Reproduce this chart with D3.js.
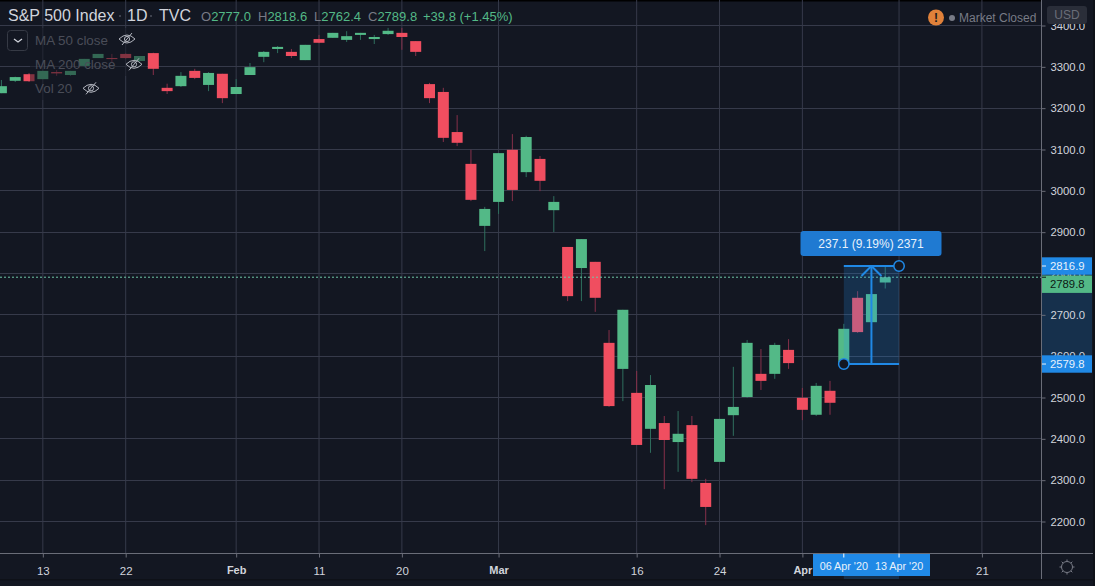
<!DOCTYPE html>
<html><head><meta charset="utf-8">
<script src="https://cdn.jsdelivr.net/npm/d3@7"></script>
<style>
html,body{margin:0;padding:0;background:#131722;overflow:hidden}
svg{display:block}
text{font-family:"Liberation Sans",Arial,sans-serif}
</style></head><body>
<svg id="c" width="1095" height="586"></svg>
<script>
const dates=["2020-01-08","2020-01-09","2020-01-10","2020-01-13","2020-01-14","2020-01-15","2020-01-16","2020-01-17","2020-01-21","2020-01-22","2020-01-23","2020-01-24","2020-01-27","2020-01-28","2020-01-29","2020-01-30","2020-01-31","2020-02-03","2020-02-04","2020-02-05","2020-02-06","2020-02-07","2020-02-10","2020-02-11","2020-02-12","2020-02-13","2020-02-14","2020-02-18","2020-02-19","2020-02-20","2020-02-21","2020-02-24","2020-02-25","2020-02-26","2020-02-27","2020-02-28","2020-03-02","2020-03-03","2020-03-04","2020-03-05","2020-03-06","2020-03-09","2020-03-10","2020-03-11","2020-03-12","2020-03-13","2020-03-16","2020-03-17","2020-03-18","2020-03-19","2020-03-20","2020-03-23","2020-03-24","2020-03-25","2020-03-26","2020-03-27","2020-03-30","2020-03-31","2020-04-01","2020-04-02","2020-04-03","2020-04-06","2020-04-07","2020-04-08","2020-04-09"];
const futureDates=["2020-04-13","2020-04-14","2020-04-15","2020-04-16","2020-04-17","2020-04-20","2020-04-21","2020-04-22","2020-04-23","2020-04-24","2020-04-27"];
const open=[3235,3265,3281,3269,3286,3279,3301,3320,3320,3330,3313,3332,3248,3252,3289,3255,3282,3233,3279,3323,3342,3335,3315,3366,3369,3364,3376,3366,3378,3381,3361,3257,3238,3141,3064,2914,2972,3098,3044,3076,2952,2863,2812,2827,2631,2568,2510,2423,2437,2391,2432,2292,2343,2456,2500,2556,2556,2614,2498,2457,2515,2582,2740,2681,2777.0];
const high=[3267,3275,3284,3289,3291,3289,3318,3330,3330,3332,3325,3333,3258,3286,3294,3286,3282,3269,3308,3337,3349,3342,3352,3376,3381,3385,3381,3376,3393,3393,3361,3260,3248,3182,3098,2960,3090,3136,3132,3083,2986,2863,2882,2827,2662,2711,2563,2553,2454,2466,2454,2302,2447,2573,2638,2616,2631,2640,2522,2534,2539,2677,2756,2749,2818.6];
const low=[3235,3262,3262,3269,3277,3277,3298,3320,3310,3318,3308,3279,3233,3250,3269,3240,3211,3233,3279,3310,3332,3320,3315,3356,3369,3359,3364,3354,3376,3340,3325,3211,3117,3107,2974,2853,2943,2974,3032,2998,2899,2732,2732,2706,2476,2490,2384,2365,2277,2319,2294,2190,2343,2406,2498,2517,2544,2568,2444,2454,2457,2580,2655,2681,2762.4];
const close=[3252,3274,3264,3289,3283,3289,3318,3330,3318,3320,3325,3294,3240,3277,3272,3284,3223,3250,3298,3335,3347,3325,3352,3357,3381,3373,3381,3371,3386,3371,3335,3223,3127,3115,2977,2955,3090,3001,3129,3023,2972,2744,2882,2740,2478,2711,2384,2529,2396,2411,2302,2234,2447,2476,2631,2539,2626,2582,2469,2527,2486,2665,2657,2749,2789.8];
const priceTicks=[2200,2300,2400,2500,2600,2700,2800,2900,3000,3100,3200,3300,3400];
const timeTicks=[["2020-01-13","13",false],["2020-01-22","22",false],["2020-02-03","Feb",true],["2020-02-11","11",false],["2020-02-20","20",false],["2020-03-02","Mar",true],["2020-03-16","16",false],["2020-03-24","24",false],["2020-04-01","Apr",true],["2020-04-21","21",false]];
const measureFrom=2579.8, measureTo=2816.9, lastPrice=2789.8;
const measureLabel="237.1 (9.19%) 2371";
const measureDates=["2020-04-06","2020-04-13"];
const measureDateLabels=["06 Apr '20","13 Apr '20"];
const ohlc=[["O","2777.0"],["H","2818.6"],["L","2762.4"],["C","2789.8"]];
const changeLabel="+39.8 (+1.45%)";
const legendRows=["MA 50 close","MA 200 close","Vol 20"];

const C={bg:"#131722",grid:"#363a4a",axis:"#6a6d78",txt:"#d1d4dc",up:"#53b987",dn:"#f04e60",upW:"#2f6f5e",dnW:"#86304a",blue:"#2089e6",dim:"#787b86"};
const FF='"Liberation Sans",Arial,sans-serif';
const svg=d3.select("#c");
const allDates=dates.concat(futureDates);
const step=13.81, x0=1.4, W=1041, H=553.5, R=1093, B=579;
const x=d3.scalePoint().domain(allDates).range([x0,x0+step*(allDates.length-1)]);
const y=d3.scaleLinear().domain([2200,3400]).range([521,25]);

svg.append("rect").attr("width",1095).attr("height",586).attr("fill",C.bg);
svg.append("rect").attr("width",W).attr("height",1.5).attr("fill","#000");
svg.append("rect").attr("x",R).attr("width",2).attr("height",586).attr("fill","#0e1118");
svg.append("rect").attr("y",B).attr("width",1095).attr("height",1.5).attr("fill","#0e1118");

// grid
svg.append("defs").append("clipPath").attr("id","pane").append("rect").attr("width",W).attr("height",H);
const pane=svg.append("g").attr("clip-path","url(#pane)");
pane.append("g").selectAll("line").data(timeTicks.concat([["2020-04-13","",false]])).join("line")
 .attr("x1",d=>x(d[0])).attr("x2",d=>x(d[0])).attr("y1",0).attr("y2",H).attr("stroke",C.grid);
pane.append("g").selectAll("line").data(priceTicks).join("line")
 .attr("x1",0).attr("x2",W).attr("y1",d=>Math.round(y(d))+.5).attr("y2",d=>Math.round(y(d))+.5).attr("stroke",C.grid);

// candles
const idx=d3.range(dates.length), bw=11;
pane.append("g").selectAll("line").data(idx).join("line")
 .attr("x1",i=>x(dates[i])).attr("x2",i=>x(dates[i])).attr("y1",i=>y(high[i])).attr("y2",i=>y(low[i]))
 .attr("stroke",i=>close[i]>=open[i]?C.upW:C.dnW).attr("stroke-width",1);
pane.append("g").selectAll("rect").data(idx).join("rect")
 .attr("x",i=>x(dates[i])-bw/2).attr("width",bw)
 .attr("y",i=>y(Math.max(open[i],close[i]))).attr("height",i=>Math.max(1,Math.abs(y(open[i])-y(close[i]))))
 .attr("fill",i=>close[i]>=open[i]?C.up:C.dn);

// last price line
pane.append("line").attr("x1",0).attr("x2",W).attr("y1",y(lastPrice)).attr("y2",y(lastPrice))
 .attr("stroke","#6fc7a8").attr("stroke-dasharray","2 2").attr("stroke-width",1);

// measure tool
const mx1=x(measureDates[0]), mx2=x(measureDates[1]), my1=y(measureFrom), my2=y(measureTo), mc=(mx1+mx2)/2;
const tool=svg.append("g");
tool.append("rect").attr("x",mx1).attr("y",my2).attr("width",mx2-mx1).attr("height",my1-my2).attr("fill","rgba(33,150,243,.2)");
const lp=(a,b,c,d)=>tool.append("line").attr("x1",a).attr("y1",b).attr("x2",c).attr("y2",d).attr("stroke",C.blue).attr("stroke-width",2);
lp(mx1,my2,mx2,my2); lp(mx1,my1,mx2,my1); lp(mc,my2,mc,my1);
lp(mc,my2,mc-10,my2+10); lp(mc,my2,mc+10,my2+10);
[[mx2,my2],[mx1,my1]].forEach(p=>tool.append("circle").attr("cx",p[0]).attr("cy",p[1]).attr("r",5.2).attr("fill",C.bg).attr("stroke",C.blue).attr("stroke-width",1.5));
tool.append("rect").attr("x",800.5).attr("y",231).attr("width",141).attr("height",25).attr("rx",3).attr("fill","#1f7ad2");
tool.append("text").attr("x",871).attr("y",248).attr("text-anchor","middle").attr("font-size",12).attr("fill","#e8f1fb").text(measureLabel);

// axes frame
svg.append("line").attr("x1",W+.5).attr("x2",W+.5).attr("y1",0).attr("y2",B).attr("stroke",C.axis);
svg.append("line").attr("x1",0).attr("x2",R).attr("y1",H).attr("y2",H).attr("stroke",C.axis);

// right axis
svg.append("rect").attr("x",W+1).attr("y",my2).attr("width",50).attr("height",my1-my2).attr("fill","rgba(33,150,243,.2)");
const yAxis=d3.axisRight(y).tickValues(priceTicks).tickFormat(d3.format(".1f")).tickSize(4).tickPadding(5);
const ya=svg.append("g").attr("transform",`translate(${W+.5},0.5)`).call(yAxis);
ya.select(".domain").remove();
ya.selectAll("line").attr("stroke",C.axis);
ya.selectAll("text").attr("fill",C.txt).attr("font-size",11.3).attr("font-family",FF);

// bottom axis
svg.append("rect").attr("x",mx1).attr("y",H).attr("width",mx2-mx1).attr("height",B-H).attr("fill","rgba(33,150,243,.2)");
const xAxis=d3.axisBottom(x).tickValues(timeTicks.map(d=>d[0])).tickFormat(d=>timeTicks.find(t=>t[0]===d)[1]).tickSize(4).tickPadding(9);
const xa=svg.append("g").attr("transform",`translate(0,${H})`).call(xAxis);
xa.select(".domain").remove();
xa.selectAll("line").attr("stroke",C.axis);
xa.selectAll("text").attr("fill",C.txt).attr("font-family",FF)
 .attr("font-size",d=>timeTicks.find(t=>t[0]===d)[2]?11:11.5)
 .attr("font-weight",d=>timeTicks.find(t=>t[0]===d)[2]?"bold":"normal");

// price tags: the last-price tag is nudged below the measure tag so neither hides the other
[[measureTo,C.blue,"#e8f1fb",0],[measureFrom,C.blue,"#e8f1fb",0],[lastPrice,C.up,"#0d1a14",7]].forEach(t=>{
  const cy=y(t[0]), oy=cy+t[3];
  svg.append("rect").attr("x",W+1).attr("y",oy-8.7).attr("width",50).attr("height",17.4).attr("fill",t[1]);
  svg.append("line").attr("x1",W+1).attr("x2",W+5).attr("y1",cy).attr("y2",cy).attr("stroke",t[2]);
  svg.append("text").attr("x",W+9).attr("y",oy+4.2).attr("font-size",11.3).attr("fill",t[2]).text(d3.format(".1f")(t[0]));
});

// date tags
svg.append("rect").attr("x",813).attr("y",H+.5).attr("width",117).attr("height",22).attr("fill",C.blue);
measureDates.forEach((d,i)=>{
  svg.append("line").attr("x1",x(d)).attr("x2",x(d)).attr("y1",H).attr("y2",H+4).attr("stroke","#fff");
  svg.append("text").attr("x",x(d)).attr("y",570).attr("text-anchor","middle").attr("font-size",10.8).attr("fill","#e8f1fb").text(measureDateLabels[i]);
});

// header
const hdr=svg.append("g");
hdr.append("text").attr("x",8).attr("y",21).attr("font-size",16).attr("fill",C.txt).text("S&P 500 Index");
hdr.append("text").attr("x",127).attr("y",21).attr("font-size",16).attr("fill",C.txt).text("1D");
hdr.append("text").attr("x",159).attr("y",21).attr("font-size",16).attr("fill",C.txt).text("TVC");
hdr.append("circle").attr("cx",120).attr("cy",16).attr("r",.8).attr("fill",C.dim);
hdr.append("circle").attr("cx",151).attr("cy",16).attr("r",.8).attr("fill",C.dim);
const hx=[201,258,314,368];
ohlc.forEach((o,i)=>{
  const t=hdr.append("text").attr("x",hx[i]).attr("y",21).attr("font-size",13);
  t.append("tspan").attr("fill",C.dim).text(o[0]);
  t.append("tspan").attr("fill",C.up).text(o[1]);
});
hdr.append("text").attr("x",423).attr("y",21).attr("font-size",13).attr("fill",C.up).text(changeLabel);

// status
svg.append("circle").attr("cx",936).attr("cy",17.5).attr("r",8).attr("fill","#e0813a");
svg.append("text").attr("x",936).attr("y",22).attr("text-anchor","middle").attr("font-size",12).attr("font-weight","bold").attr("fill","#1a1a1a").text("!");
svg.append("circle").attr("cx",952).attr("cy",18).attr("r",3).attr("fill",C.dim);
svg.append("text").attr("x",959).attr("y",22).attr("font-size",12).attr("fill",C.dim).text("Market Closed");
svg.append("rect").attr("x",1047).attr("y",6).attr("width",40).attr("height",18).attr("rx",3).attr("fill","#2a2e39");
svg.append("text").attr("x",1067).attr("y",19).attr("text-anchor","middle").attr("font-size",12).attr("fill","#6a6d78").text("USD");

// legend overlay
const leg=svg.append("g");
[[30,28,105,24],[30,52,117,24],[30,76,76,24]].forEach(r=>leg.append("rect").attr("x",r[0]).attr("y",r[1]).attr("width",r[2]).attr("height",r[3]).attr("fill","rgba(19,23,34,.5)"));
leg.append("rect").attr("x",7.5).attr("y",30.5).attr("width",20).attr("height",20).attr("rx",3).attr("fill",C.bg).attr("stroke","#363a45");
leg.append("path").attr("d","M14 39l4 3 4-3").attr("fill","none").attr("stroke",C.txt).attr("stroke-width",1.3);
const rowY=[45,68.5,92.5], eyeX=[127,134,91], eyeY=[39,64.3,88.3];
legendRows.forEach((t,i)=>{
  leg.append("text").attr("x",35).attr("y",rowY[i]).attr("font-size",13.4).attr("fill","#4a4d58").text(t);
  const e=leg.append("g").attr("transform",`translate(${eyeX[i]},${eyeY[i]})`).attr("fill","none").attr("stroke","#b2b5be").attr("stroke-width",1);
  e.append("path").attr("d","M-8 0Q0-8 8 0Q0 8-8 0Z");
  e.append("circle").attr("r",2.6);
  e.append("path").attr("d","M-5 6L5-6");
});

// gear
const g=svg.append("g").attr("transform","translate(1067,567)").attr("fill","none").attr("stroke","#787b86");
g.append("circle").attr("r",5.5);
d3.range(8).forEach(i=>{const a=i*Math.PI/4;g.append("line").attr("x1",5.5*Math.cos(a)).attr("y1",5.5*Math.sin(a)).attr("x2",7.5*Math.cos(a)).attr("y2",7.5*Math.sin(a));});
</script></body></html>
